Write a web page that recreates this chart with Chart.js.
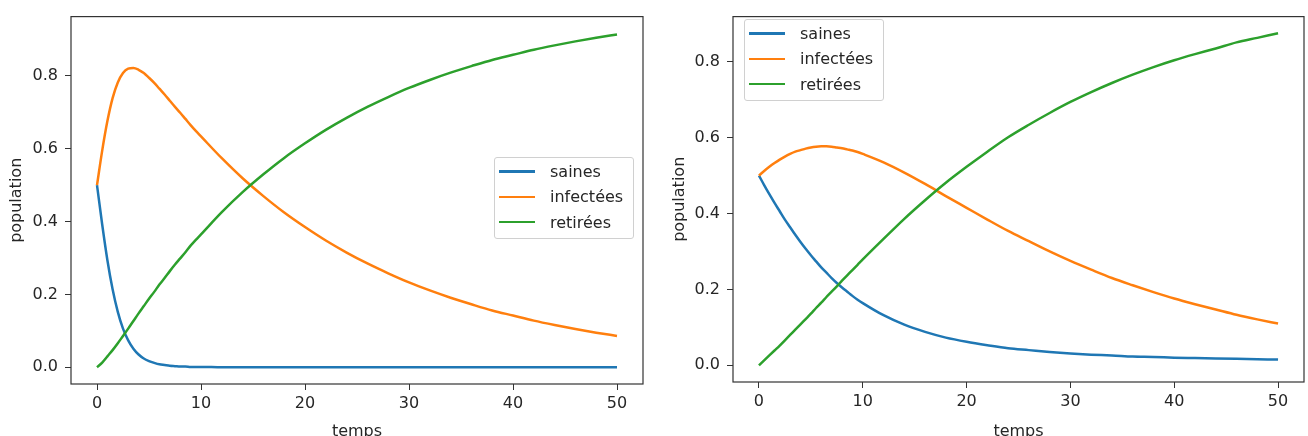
<!DOCTYPE html>
<html>
<head>
<meta charset="utf-8">
<script src="https://cdn.jsdelivr.net/npm/chart.js"></script>
<style>
  body { margin: 0; background: #fff; }
  #page { position: relative; width: 1308px; height: 436px; overflow: hidden; }
  .wrap { position: absolute; top: 0; width: 654px; height: 436px; }
  .legend {
    position: absolute; box-sizing: border-box; width: 140px; height: 82px;
    border: 1px solid #d0d0d0; border-radius: 3px; background: rgba(255,255,255,0.8);
    padding-top: 1px; font-family: "DejaVu Sans", sans-serif; font-size: 16px; color: #262626;
  }
  .legend .row { display: flex; align-items: center; height: 25.3px; }
  .legend .handle { width: 36px; height: 2.5px; margin-left: 4px; margin-right: 15px; }
</style>
</head>
<body>
<div id="page">
  <div class="wrap" style="left:0"><canvas id="chart-left" width="654" height="436"></canvas></div>
  <div class="wrap" style="left:654px"><canvas id="chart-right" width="654" height="436"></canvas></div>
  <div class="legend" id="legend-left" style="left:494px; top:157px"></div>
  <div class="legend" id="legend-right" style="left:744px; top:19px"></div>
</div>
<script>
// time axis (same sampling for both plots)
var temps = [0,0.5,1,1.5,2,2.5,3,3.5,4,4.5,5,5.5,6,6.5,7,7.5,8,8.5,9,9.5,10,
             12,14,16,18,20,22,24,26,28,30,32,34,36,38,40,42,44,46,48,50];

var labels = ["saines", "infectées", "retirées"];
var colors = ["#1f77b4", "#ff7f0e", "#2ca02c"];

// left plot
var sainesA = [0.5,0.392,0.294,0.214,0.152,0.106,0.074,0.051,0.035,0.024,0.017,0.012,0.008,0.006,0.004,0.003,0.002,0.002,0.001,0.001,0.001,
               0,0,0,0,0,0,0,0,0,0,0,0,0,0,0,0,0,0,0,0];
var infecteesA = [0.5,0.595,0.676,0.739,0.782,0.808,0.820,0.822,0.817,0.808,0.795,0.781,0.765,0.749,0.732,0.715,0.699,0.682,0.665,0.649,0.634,
                  0.574,0.519,0.470,0.425,0.385,0.348,0.315,0.285,0.258,0.233,0.211,0.191,0.173,0.156,0.142,0.128,0.116,0.105,0.095,0.086];
var retireesA = [0,0.013,0.030,0.047,0.066,0.086,0.106,0.127,0.148,0.168,0.188,0.207,0.227,0.245,0.264,0.282,0.299,0.316,0.334,0.350,0.365,
                 0.426,0.481,0.530,0.575,0.615,0.652,0.685,0.715,0.742,0.767,0.789,0.809,0.827,0.844,0.858,0.872,0.884,0.895,0.905,0.914];

// right plot
var sainesB = [0.5,0.475,0.451,0.428,0.406,0.384,0.364,0.344,0.325,0.307,0.290,0.274,0.258,0.244,0.230,0.217,0.205,0.194,0.183,0.173,0.164,
               0.132,0.107,0.088,0.073,0.062,0.053,0.045,0.040,0.035,0.031,0.028,0.026,0.023,0.022,0.020,0.019,0.018,0.017,0.016,0.015];
var infecteesB = [0.5,0.512,0.523,0.533,0.542,0.550,0.557,0.563,0.567,0.571,0.574,0.576,0.577,0.577,0.576,0.574,0.572,0.569,0.566,0.562,0.557,
                  0.535,0.508,0.478,0.446,0.415,0.384,0.354,0.327,0.300,0.275,0.252,0.230,0.211,0.193,0.176,0.161,0.147,0.133,0.121,0.110];
var retireesB = [0,0.013,0.026,0.039,0.052,0.066,0.080,0.094,0.108,0.122,0.136,0.151,0.165,0.180,0.194,0.208,0.223,0.237,0.251,0.265,0.279,
                 0.333,0.386,0.435,0.481,0.523,0.563,0.601,0.634,0.665,0.694,0.720,0.744,0.766,0.786,0.804,0.820,0.835,0.851,0.863,0.875];

var xTicks = [0, 10, 20, 30, 40, 50];
var yTicks = [0, 0.2, 0.4, 0.6, 0.8];

var font = "DejaVu Sans";
var textColor = "#262626";

function points(ys) {
    return temps.map(function(t, i) { return {x: t, y: ys[i]}; });
}

// full frame round the plot area, like matplotlib
var framePlugin = {
    id: "frame",
    afterDraw: function(chart) {
        var a = chart.chartArea, ctx = chart.ctx;
        ctx.save();
        ctx.strokeStyle = "#333";
        ctx.lineWidth = 1.2;
        ctx.strokeRect(a.left, a.top, a.right - a.left, a.bottom - a.top);
        ctx.restore();
    }
};

function makeChart(id, series, cfg) {
    var datasets = series.map(function(s, i) {
        return {
            label: labels[i],
            data: points(s),
            borderColor: colors[i],
            backgroundColor: colors[i],
            borderWidth: 2.5,
            pointRadius: 0,
            fill: false,
            cubicInterpolationMode: "monotone",
            order: 3 - i
        };
    });
    return new Chart(document.getElementById(id), {
        type: "line",
        data: {datasets: datasets},
        plugins: [framePlugin],
        options: {
            responsive: false,
            animation: false,
            devicePixelRatio: 1,
            layout: {padding: {top: cfg.top, right: cfg.right, left: 0, bottom: 0}},
            plugins: {legend: {display: false}, tooltip: {enabled: false}},
            scales: {
                x: {
                    type: "linear",
                    min: -2.5,
                    max: 52.5,
                    afterBuildTicks: function(s) { s.ticks = xTicks.map(function(v) { return {value: v}; }); },
                    afterFit: function(s) { s.height = cfg.xh; },
                    grid: {drawOnChartArea: false, drawTicks: true, tickLength: 6, color: "#333"},
                    border: {display: false},
                    ticks: {font: {family: font, size: 16}, color: textColor, padding: 4, maxRotation: 0,
                            callback: function(v) { return String(v); }},
                    title: {display: true, text: "temps", font: {family: font, size: 16, lineHeight: 1.0},
                            color: textColor, padding: {top: 0, bottom: -4}}
                },
                y: {
                    type: "linear",
                    min: cfg.ymin,
                    max: cfg.ymax,
                    afterBuildTicks: function(s) { s.ticks = yTicks.map(function(v) { return {value: v}; }); },
                    afterFit: function(s) { s.width = cfg.yw; },
                    grid: {drawOnChartArea: false, drawTicks: true, tickLength: 6, color: "#333"},
                    border: {display: false},
                    ticks: {font: {family: font, size: 16}, color: textColor, padding: 7,
                            callback: function(v) { return v.toFixed(1); }},
                    title: {display: true, text: "population", font: {family: font, size: 16},
                            color: textColor, padding: {top: cfg.titlePad, bottom: 0}}
                }
            }
        }
    });
}

function makeLegend(chart, id) {
    var box = document.getElementById(id);
    chart.data.datasets.forEach(function(ds) {
        var row = document.createElement("div");
        row.className = "row";
        var h = document.createElement("span");
        h.className = "handle";
        h.style.background = ds.borderColor;
        var t = document.createElement("span");
        t.textContent = ds.label;
        row.appendChild(h);
        row.appendChild(t);
        box.appendChild(row);
    });
}

var chartLeft = makeChart("chart-left", [sainesA, infecteesA, retireesA],
    {top: 11, right: 11, yw: 71, xh: 52, ymin: -0.046, ymax: 0.963, titlePad: 7});
var chartRight = makeChart("chart-right", [sainesB, infecteesB, retireesB],
    {top: 9, right: 4, yw: 79, xh: 54, ymin: -0.044, ymax: 0.919, titlePad: 16});

makeLegend(chartLeft, "legend-left");
makeLegend(chartRight, "legend-right");
</script>
</body>
</html>
